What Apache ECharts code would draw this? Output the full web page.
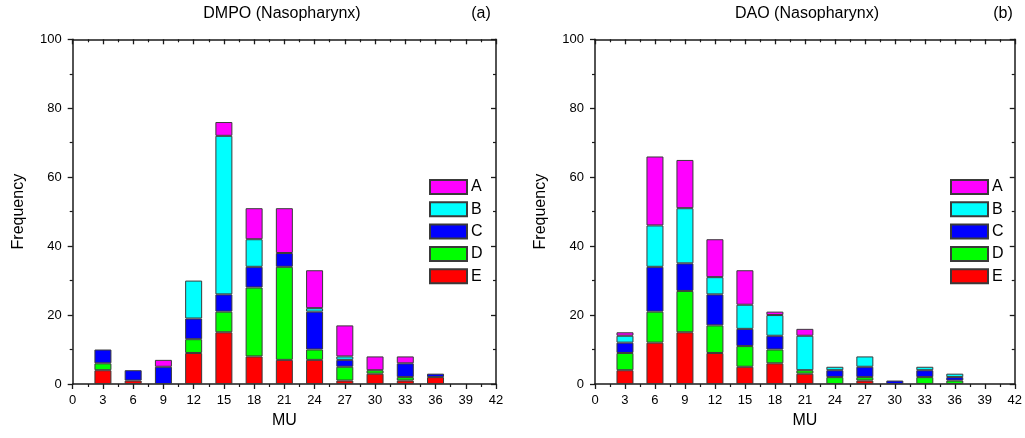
<!DOCTYPE html>
<html lang="en">
<head>
    <meta charset="UTF-8">
    <title>MU frequency</title>
<style>
    * {
        margin: 0;
        padding: 0;
    }

    body {
        background: #fff;
    }

    #chart {
        width: 1025px;
        height: 438px;
    }
</style>
<script src="https://cdn.jsdelivr.net/npm/echarts@6/dist/echarts.min.js"></script>
</head>
<body>
<div id="chart"></div>
<script>
  // x tick positions (0..42 step 3) and the MU bins that hold bars
  const xTicks = [0, 3, 6, 9, 12, 15, 18, 21, 24, 27, 30, 33, 36, 39, 42]
  const mu = [3, 6, 9, 12, 15, 18, 21, 24, 27, 30, 33, 36]
  const groups = ['A', 'B', 'C', 'D', 'E']

  // (a) DMPO
  const dmpoA = [0, 0, 2, 0, 4, 9, 13, 11, 9, 4, 2, 0]
  const dmpoB = [0, 0, 0, 11, 46, 8, 0, 1, 1, 0, 0, 0]
  const dmpoC = [4, 3, 5, 6, 5, 6, 4, 11, 2, 0, 4, 1]
  const dmpoD = [2, 0, 0, 4, 6, 20, 27, 3, 4, 1, 1, 0]
  const dmpoE = [4, 1, 0, 9, 15, 8, 7, 7, 1, 3, 1, 2]

  // (b) DAO
  const daoA = [1, 20, 14, 11, 10, 1, 2, 0, 0, 0, 0, 0]
  const daoB = [2, 12, 16, 5, 7, 6, 10, 1, 3, 0, 1, 1]
  const daoC = [3, 13, 8, 9, 5, 4, 0, 2, 3, 1, 2, 1]
  const daoD = [5, 9, 12, 8, 6, 4, 1, 2, 1, 0, 2, 1]
  const daoE = [4, 12, 15, 9, 5, 6, 3, 0, 1, 0, 0, 0]

  const colors = {A: '#ff00ff', B: '#00ffff', C: '#0000ff', D: '#00ff00', E: '#ff0000'}
  const font = '"Liberation Sans", Arial, sans-serif'
  const axisColor = '#1a1a1a'

  const grids = [
    {left: 72.7, top: 39.3, width: 423.3, height: 344.7},
    {left: 595, top: 39.3, width: 424, height: 344.7}
  ]

  function xAxis(gridIndex, top) {
    return {
      type: 'value',
      gridIndex: gridIndex,
      position: top ? 'top' : 'bottom',
      min: 0,
      max: 42,
      interval: 3,
      name: top ? '' : 'MU',
      nameLocation: 'middle',
      nameGap: 29,
      nameTextStyle: {fontSize: 16, color: '#000', fontFamily: font},
      axisLine: {show: true, onZero: false, lineStyle: {color: axisColor, width: 1.5}},
      axisTick: {show: true, inside: top, length: 5, lineStyle: {color: axisColor, width: 1.3}},
      minorTick: {show: true, splitNumber: 2, length: 3, lineStyle: {color: axisColor, width: 1.2}},
      axisLabel: {show: !top, fontSize: 13, color: '#000', margin: 10, fontFamily: font},
      splitLine: {show: false},
      minorSplitLine: {show: false}
    }
  }

  // hidden category axis that carries the stacked bars
  function barAxis(gridIndex) {
    return {
      type: 'category',
      gridIndex: gridIndex,
      position: 'bottom',
      data: xTicks.map(String),
      boundaryGap: false,
      show: false
    }
  }

  function yAxis(gridIndex, right) {
    return {
      type: 'value',
      gridIndex: gridIndex,
      position: right ? 'right' : 'left',
      min: 0,
      max: 100,
      interval: 20,
      name: right ? '' : 'Frequency',
      nameLocation: 'middle',
      nameGap: 46,
      nameTextStyle: {fontSize: 16, color: '#000', fontFamily: font},
      axisLine: {show: true, onZero: false, lineStyle: {color: axisColor, width: 1.5}},
      axisTick: {show: true, inside: right, length: 5, lineStyle: {color: axisColor, width: 1.3}},
      minorTick: {show: true, splitNumber: 2, length: 3, lineStyle: {color: axisColor, width: 1.2}},
      axisLabel: {show: !right, fontSize: 13, color: '#000', margin: 11, fontFamily: font},
      splitLine: {show: false},
      minorSplitLine: {show: false}
    }
  }

  function stackSeries(values, xIndex, yIndex, stack) {
    // bottom to top: E, D, C, B, A
    return ['E', 'D', 'C', 'B', 'A'].map(name => ({
      name: name,
      type: 'bar',
      stack: stack,
      xAxisIndex: xIndex,
      yAxisIndex: yIndex,
      barWidth: 17,
      itemStyle: {color: colors[name], borderColor: '#3a3a3a', borderWidth: 1},
      data: xTicks.map(t => {
        const i = mu.indexOf(t)
        return i < 0 || values[name][i] === 0 ? '-' : values[name][i]
      })
    }))
  }

  function legend(left) {
    return {
      data: groups,
      orient: 'vertical',
      left: left,
      top: 179,
      padding: 0,
      itemWidth: 37,
      itemHeight: 14,
      itemGap: 6.3,
      icon: 'rect',
      selectedMode: false,
      textStyle: {fontSize: 16, lineHeight: 14, color: '#000', fontFamily: font, padding: [0, 0, 0, -1]}
    }
  }

  function title(text, left) {
    return {
      text: text,
      left: left,
      top: 6,
      padding: 0,
      textAlign: 'center',
      textStyle: {fontSize: 16, fontWeight: 'normal', color: '#000', fontFamily: font}
    }
  }

  const chart = echarts.init(document.getElementById('chart'))

  chart.setOption({
    animation: false,
    backgroundColor: '#fff',
    title: [
      title('DMPO (Nasopharynx)', 282),
      title('(a)', 481),
      title('DAO (Nasopharynx)', 807),
      title('(b)', 1003)
    ],
    legend: [legend(429), legend(950)],
    grid: grids,
    xAxis: [
      xAxis(0, false), xAxis(0, true), barAxis(0),
      xAxis(1, false), xAxis(1, true), barAxis(1)
    ],
    yAxis: [yAxis(0, false), yAxis(0, true), yAxis(1, false), yAxis(1, true)],
    series: [].concat(
      stackSeries({A: dmpoA, B: dmpoB, C: dmpoC, D: dmpoD, E: dmpoE}, 2, 0, 'dmpo'),
      stackSeries({A: daoA, B: daoB, C: daoC, D: daoD, E: daoE}, 5, 2, 'dao')
    )
  })
</script>
</body>
</html>
